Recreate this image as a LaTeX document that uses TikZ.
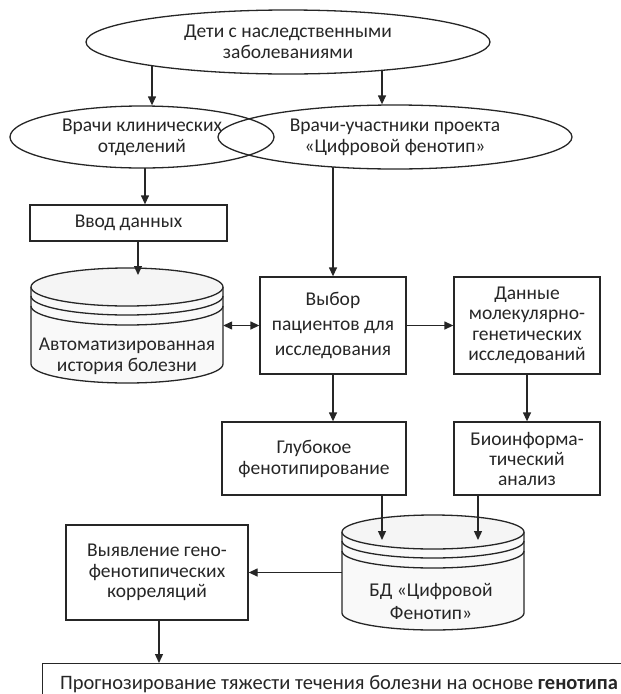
\documentclass[tikz,border=0pt]{standalone}
\usepackage{fontspec}
\setmainfont{Carlito}
\usetikzlibrary{shapes.geometric,arrows.meta}
\begin{document}
\begin{tikzpicture}[x=1pt,y=1pt,
  every node/.style={font=\fontsize{19.5}{21}\selectfont, text=black!85, align=center},
  ln/.style={draw=black!85, line width=1.3pt},
  arr/.style={ln, -{Triangle[length=9pt,width=8pt]}},
  darr/.style={ln, {Triangle[length=9pt,width=8pt]}-{Triangle[length=9pt,width=8pt]}},
  ell/.style={ellipse, ln, inner sep=0pt},
  boxn/.style={rectangle, ln, inner sep=0pt},
  ghost/.style={rectangle, inner sep=0pt},
  cylf/.style={ln, fill=gray!5},
]
\clip (0,0) rectangle (621,-694);
\useasboundingbox (0,0) rectangle (621,-694);

% ellipses
\node[ell, minimum width=404pt, minimum height=64pt] (top) at (288,-42) {Дети с наследственными\\заболеваниями};
\node[ell, minimum width=264pt, minimum height=62pt] (left) at (142,-137) {Врачи клинических\\отделений};
\node[ell, minimum width=354pt, minimum height=64pt] (right) at (395,-137) {Врачи-участники проекта\\«Цифровой фенотип»};

% boxes
\node[boxn, minimum width=197pt, minimum height=36pt] (vvod) at (128.5,-223) {Ввод данных};
\node[boxn, minimum width=146pt, minimum height=97pt, font=\fontsize{19.5}{25}\selectfont] (vybor) at (333,-325.5) {Выбор\\пациентов для\\исследования};
\node[boxn, minimum width=146pt, minimum height=97pt, font=\fontsize{19.5}{20.5}\selectfont] (dann) at (527,-325.5) {Данные\\молекулярно-\\генетических\\исследований};
\node[boxn, minimum width=184pt, minimum height=73pt] (glub) at (314,-458.5) {Глубокое\\фенотипирование};
\node[boxn, minimum width=146pt, minimum height=73pt, font=\fontsize{19.5}{20}\selectfont] (bio) at (527,-458.5) {Биоинформа-\\тический\\анализ};
\node[boxn, minimum width=182pt, minimum height=95pt, font=\fontsize{19.5}{20.5}\selectfont] (vyyav) at (157,-572.5) {Выявление гено-\\фенотипических\\корреляций};

% cylinder 1
\path[cylf] (31,-287) -- (31,-364) arc[start angle=180,end angle=360,x radius=96,y radius=19] -- (223,-287);
\draw[ln, fill=gray!8] (127,-287) ellipse[x radius=96, y radius=19];
\draw[ln] (31,-296) arc[start angle=180,end angle=360,x radius=96,y radius=19];
\draw[ln] (31,-306) arc[start angle=180,end angle=360,x radius=96,y radius=19];
\node[ghost, minimum width=192pt, minimum height=115pt] (cyl1) at (127,-325.5) {};
\node (cyl1t) at (127,-356) {Автоматизированная\\история болезни};

% cylinder 2
\path[cylf] (342,-532) -- (342,-613) arc[start angle=180,end angle=360,x radius=91,y radius=17] -- (524,-532);
\draw[ln, fill=gray!8] (433,-532) ellipse[x radius=91, y radius=17];
\draw[ln] (342,-541) arc[start angle=180,end angle=360,x radius=91,y radius=17];
\draw[ln] (342,-551) arc[start angle=180,end angle=360,x radius=91,y radius=17];
\node[ghost, minimum width=182pt, minimum height=115pt] (cyl2) at (433,-572.5) {};
\node[font=\fontsize{19.5}{23}\selectfont] (cyl2t) at (431,-601) {БД «Цифровой\\Фенотип»};

% bottom box
\node[rectangle, inner sep=0pt, minimum width=600pt, minimum height=60pt, anchor=north west, ln] (prog) at (42,-663) {};
\node[font=\fontsize{20.5}{22}\selectfont] (progt) at (339,-684) {Прогнозирование тяжести течения болезни на основе \textbf{генотипа}};

% connector points on ellipse borders
\coordinate (t1) at (152,-65.7);
\coordinate (t2) at (382,-70.3);
\coordinate (l1) at (145,-168);
\coordinate (r1) at (333,-167);
\coordinate (v1) at (138,-241);
\coordinate (g1) at (382,-495);
\coordinate (b1) at (478,-495);
\coordinate (c2a) at (382,-540);
\coordinate (c2b) at (478,-540);
\coordinate (c1top) at (138,-275);
\coordinate (pr1) at (159,-620);

\draw[arr] (t1) -- (t1 |- left.north);
\draw[arr] (t2) -- (t2 |- right.north);
\draw[arr] (l1) -- (l1 |- vvod.north);
\draw[arr] (r1) -- (r1 |- vybor.north);
\draw[arr] (v1) -- (c1top);
\draw[darr] (cyl1.east) -- (vybor.west);
\draw[arr] (vybor.east) -- (dann.west);
\draw[arr] (vybor.south) -- (vybor.south |- glub.north);
\draw[arr] (dann.south) -- (dann.south |- bio.north);
\draw[arr] (g1) -- (c2a);
\draw[arr] (b1) -- (c2b);
\draw[arr] (cyl2.west) -- (vyyav.east);
\draw[arr] (pr1) -- (pr1 |- prog.north);
\end{tikzpicture}
\end{document}
